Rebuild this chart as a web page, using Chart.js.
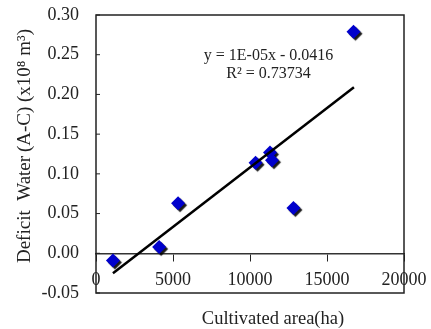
<!DOCTYPE html>
<html>
<head>
<meta charset="utf-8">
<script src="https://cdn.jsdelivr.net/npm/chart.js@4/dist/chart.umd.min.js"></script>
<style>
  body { margin: 0; background: #fff; }
  #wrap { width: 431px; height: 329px; }
</style>
</head>
<body>
<div id="wrap"><canvas id="areaChart"></canvas></div>
<script>
// cultivated area (ha) vs deficit water (x10^8 m3)
const areaHa = [1100, 4100, 5330, 10360, 11300, 11430, 12820, 16720];
const deficitWater = [-0.009, 0.008, 0.063, 0.114, 0.127, 0.117, 0.057, 0.279];

// trend line ends
const trendX = [1100, 16750];
const trendY = [-0.025, 0.209];

const xTicks = [0, 5000, 10000, 15000, 20000];
const yTicks = [-0.05, 0, 0.05, 0.1, 0.15, 0.2, 0.25, 0.3];

const equationLines = ['y = 1E-05x - 0.0416', 'R\u00b2 = 0.73734'];
const xTitle = 'Cultivated area(ha)';
const yTitle = 'Deficit  Water\u2009(A-C) (x10\u2078 m\u00b3)';

const serif = "'Liberation Serif', 'Times New Roman', serif";

const boxPlugin = {
    id: 'boxPlugin',
    beforeDatasetDraw(chart, args) {
        if (args.index === 1) {
            const ctx = chart.ctx;
            ctx.save();
            ctx.shadowColor = 'rgba(0,0,0,0.9)';
            ctx.shadowOffsetX = 2;
            ctx.shadowOffsetY = 2;
            ctx.shadowBlur = 1;
        }
    },
    afterDatasetDraw(chart, args) {
        if (args.index === 1) chart.ctx.restore();
    },
    afterDraw(chart) {
        const ctx = chart.ctx;
        const a = chart.chartArea;
        const xs = chart.scales.x, ys = chart.scales.y;
        ctx.save();
        // frame
        ctx.strokeStyle = '#222';
        ctx.lineWidth = 1.5;
        ctx.strokeRect(a.left, a.top, a.right - a.left, a.bottom - a.top);
        // inward ticks on y axis
        ctx.lineWidth = 1;
        ys.ticks.forEach(t => {
            const py = ys.getPixelForValue(t.value);
            ctx.beginPath();
            ctx.moveTo(a.left, py);
            ctx.lineTo(a.left + 4, py);
            ctx.stroke();
        });
        // equation
        ctx.fillStyle = '#222';
        ctx.font = '16px ' + serif;
        ctx.textAlign = 'center';
        ctx.textBaseline = 'middle';
        const ex = xs.getPixelForValue(11200);
        ctx.fillText(equationLines[0], ex, ys.getPixelForValue(0.249));
        ctx.fillText(equationLines[1], ex, ys.getPixelForValue(0.226));
        // x title
        ctx.font = '18.5px ' + serif;
        ctx.fillText(xTitle, (a.left + a.right) / 2 + 23, a.bottom + 26);
        // y title
        ctx.font = '19px ' + serif;
        ctx.translate(25, (a.top + a.bottom) / 2 - 8);
        ctx.rotate(-Math.PI / 2);
        ctx.fillText(yTitle, 0, 0);
        ctx.restore();
    }
};

const data = {
    datasets: [
        {
            label: 'trend',
            data: trendX.map((x, i) => ({ x: x, y: trendY[i] })),
            showLine: true,
            borderColor: '#000',
            borderWidth: 2.5,
            pointRadius: 0,
        },
        {
            label: 'Deficit water',
            data: areaHa.map((x, i) => ({ x: x, y: deficitWater[i] })),
            pointStyle: 'rectRot',
            pointRadius: 7,
            borderWidth: 0,
            backgroundColor: '#0000cc',
            borderColor: '#0000cc',
        }
    ]
};

const config = {
    type: 'scatter',
    data: data,
    options: {
        responsive: true,
        maintainAspectRatio: false,
        animation: false,
        layout: {
            padding: { left: 11, right: 27, top: 15, bottom: 36 }
        },
        plugins: {
            legend: { display: false },
            tooltip: { enabled: false }
        },
        scales: {
            x: {
                type: 'linear',
                position: { y: 0 },
                min: 0,
                max: 20000,
                afterBuildTicks: (scale) => { scale.ticks = xTicks.map(v => ({ value: v })); },
                afterFit: (scale) => { scale.paddingLeft = 0; scale.paddingRight = 0; },
                ticks: {
                    autoSkip: false,
                    maxRotation: 0,
                    padding: 9,
                    color: '#222',
                    font: { family: serif, size: 18 },
                    callback: (v) => String(v)
                },
                grid: {
                    drawOnChartArea: false,
                    drawTicks: true,
                    tickLength: 7,
                    color: '#222'
                },
                border: { display: true, color: '#333', width: 1.5 }
            },
            y: {
                type: 'linear',
                position: 'left',
                min: -0.05,
                max: 0.30,
                afterBuildTicks: (scale) => { scale.ticks = yTicks.map(v => ({ value: v })); },
                afterFit: (scale) => { scale.width = 85; scale.paddingTop = 0; scale.paddingBottom = 0; },
                ticks: {
                    padding: 4,
                    color: '#222',
                    font: { family: serif, size: 18 },
                    callback: (v) => v.toFixed(2)
                },
                grid: { display: false, drawTicks: true, tickLength: 13 },
                border: { display: false }
            }
        }
    },
    plugins: [boxPlugin]
};

var areaChart = new Chart(
    document.getElementById('areaChart'),
    config
);
</script>
</body>
</html>
